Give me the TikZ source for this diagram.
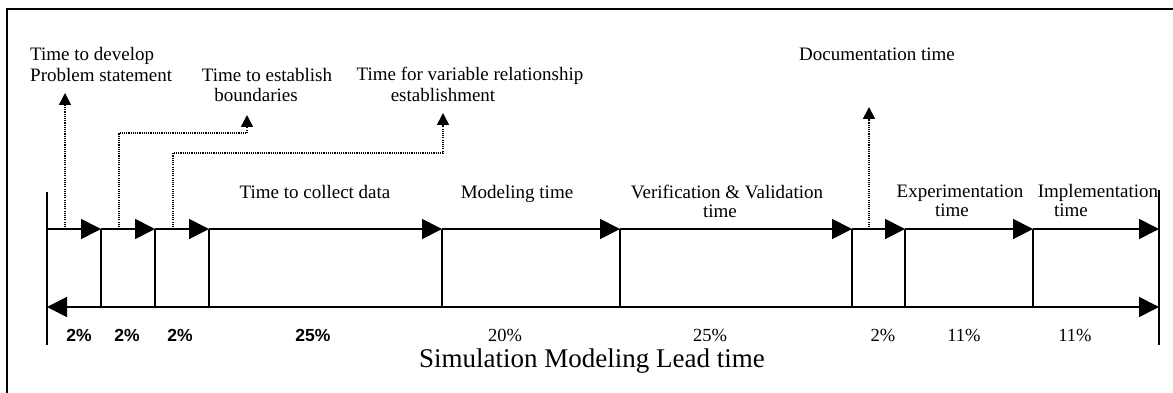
\documentclass[tikz,border=0pt]{standalone}
\usepackage{fontspec}
\setmainfont{Liberation Serif}
\newfontfamily\pctfont{Liberation Sans}
\usetikzlibrary{arrows.meta}

\tikzset{
  frameline/.style={line width=1.6pt},
  axisline/.style={line width=1.8pt},
  tickline/.style={line width=1.6pt},
  bigtip/.tip={Triangle[length=20pt,width=20pt]},
  smalltip/.tip={Triangle[length=12pt,width=12pt]},
  seg/.style={axisline,-bigtip},
  dotlink/.style={line width=1.7pt,dash pattern=on 1.1pt off 1.1pt,-smalltip},
  lbl/.style={font=\fontsize{19}{21}\selectfont,inner sep=0pt},
  pct/.style={font=\fontsize{18.5}{20}\selectfont,inner sep=0pt,anchor=base},
  pcts/.style={font=\pctfont\bfseries\fontsize{17.5}{19}\selectfont,inner sep=0pt,anchor=base},
}

\begin{document}
\begin{tikzpicture}[x=1pt,y=-1pt]
\useasboundingbox (0,0) rectangle (1173,393);

% outer frame (left and top edges)
\draw[frameline] (7,393) -- (7,9) -- (1173,9);

% phase boundaries on the upper and lower timeline
\foreach \n/\x in {0/47,1/101,2/155,3/209,4/442,5/620,6/852,7/905,8/1033,9/1159}{
  \coordinate (t\n) at (\x,229);
  \coordinate (b\n) at (\x,307);
}

% end bars
\coordinate (l0) at (47,192);  \coordinate (l1) at (47,345);
\coordinate (r0) at (1159,190); \coordinate (r1) at (1159,345);
\draw[tickline] (l0) -- (l1);
\draw[tickline] (r0) -- (r1);

% inner boundaries
\foreach \n in {1,...,8}{\draw[tickline] (t\n) -- (b\n);}

% upper timeline: one arrow per phase
\foreach \a/\b in {0/1,1/2,2/3,3/4,4/5,5/6,6/7,7/8,8/9}{\draw[seg] (t\a) -- (t\b);}

% lower timeline: overall lead time
\draw[axisline,bigtip-bigtip] (b0) -- (b9);

% upper labels
\node[lbl,anchor=base west] (dev1) at (30,61) {Time to develop};
\node[lbl,anchor=base west] (dev2) at (30,82) {Problem statement};
\node[lbl,anchor=base] (bnd1) at (267,82) {Time to establish};
\node[lbl,anchor=base] (bnd2) at (256,102) {boundaries};
\node[lbl,anchor=base] (var1) at (470,81) {Time for variable relationship};
\node[lbl,anchor=base] (var2) at (443,102) {establishment};
\node[lbl,anchor=base west] (doc) at (799,61) {Documentation time};

% dotted call-outs
\coordinate (d1a) at (65,227);  \coordinate (d1b) at (65,93);
\coordinate (d2a) at (119,227); \coordinate (d2b) at (119,133);
\coordinate (d2c) at (247,133); \coordinate (d2d) at (247,115);
\coordinate (d3a) at (173,227); \coordinate (d3b) at (173,153);
\coordinate (d3c) at (443,153); \coordinate (d3d) at (443,113);
\coordinate (d4a) at (869,227); \coordinate (d4b) at (869,107);
\draw[dotlink] (d1a) -- (d1b);
\draw[dotlink] (d2a) -- (d2b) -- (d2c) -- (d2d);
\draw[dotlink] (d3a) -- (d3b) -- (d3c) -- (d3d);
\draw[dotlink] (d4a) -- (d4b);

% phase names above the timeline
\node[lbl,anchor=base] (col) at (315,198) {Time to collect data};
\node[lbl,anchor=base] (mod) at (517,198) {Modeling time};
\node[lbl,anchor=base] (vv1) at (727,198) {Verification \& Validation};
\node[lbl,anchor=base] (vv2) at (720,217) {time};
\node[lbl,anchor=base] (exp1) at (960,197) {Experimentation};
\node[lbl,anchor=base] (exp2) at (952,216) {time};
\node[lbl,anchor=base] (imp1) at (1098,197) {Implementation};
\node[lbl,anchor=base] (imp2) at (1071,216) {time};

% shares of the lead time
\node[pcts] (p1) at (79,341) {2\%};
\node[pcts] (p2) at (127,341) {2\%};
\node[pcts] (p3) at (180,341) {2\%};
\node[pcts] (p4) at (313,341) {25\%};
\node[pct] (p5) at (505,341) {20\%};
\node[pct] (p6) at (710,341) {25\%};
\node[pct] (p7) at (883,341) {2\%};
\node[pct] (p8) at (964,341) {11\%};
\node[pct] (p9) at (1075,341) {11\%};

% axis caption
\node[font=\fontsize{27}{30}\selectfont,inner sep=0pt,anchor=base] (cap) at (592,367) {Simulation Modeling Lead time};
\end{tikzpicture}
\end{document}
